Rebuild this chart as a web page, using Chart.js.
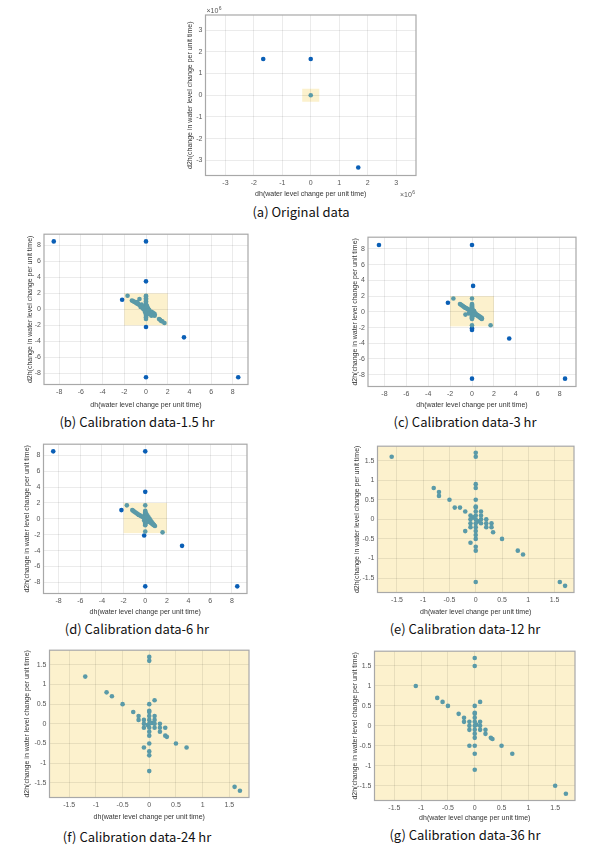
<!DOCTYPE html>
<html>
<head>
<meta charset="utf-8">
<script src="https://cdn.jsdelivr.net/npm/chart.js@4.4.1/dist/chart.umd.min.js"></script>
<style>
  html, body { margin: 0; padding: 0; background: #fff; }
  body { width: 590px; height: 850px; position: relative; overflow: hidden; }
  .panel { position: absolute; }
  .cap { position: absolute; width: 240px; text-align: center; font-family: "Noto Sans CJK KR", "Noto Sans", sans-serif;
         font-size: 13px; line-height: 16px; color: #111; white-space: pre; }
</style>
</head>
<body>
<script>
// tick labels
const ticksOrig = [-3, -2, -1, 0, 1, 2, 3];
const ticksCal = [-8, -6, -4, -2, 0, 2, 4, 6, 8];
const ticksZoom = [-1.5, -1, -0.5, 0, 0.5, 1, 1.5];

const xTitle = 'dh(water level change per unit time)';
const yTitle = 'd2h(change in water level change per unit time)';

// (a) original data (x10^6)
const aOutliers = [[-1.67, 1.67], [0, 1.67], [1.67, -3.33]];
const aCluster = [[0, 0]];

// (b) 1.5 hr
const bOutliers = [[-8.5, 8.5], [0, 8.5], [0, 3.5], [-2.2, 1.2], [0, -2.2], [3.5, -3.5], [0, -8.5], [8.5, -8.5]];
const bCluster = [
  [0, 1.7], [0, 1.6], [0, 1.4], [0, 1.2], [0, 1.0], [0, 0.8], [0, 0.6], [0, 0.5], [0, 0.4], [0, 0.3], [0, 0.2], [0, 0.1],
  [0, 0], [0, -0.1], [0, -0.2], [0, -0.3], [0, -0.4], [0, -0.5], [0, -0.6], [0, -0.8], [0, -1.0], [0, -1.2],
  [-1.7, 1.7], [-0.6, 1.3], [-1.3, 1.1], [-1.2, 1.05], [-1.1, 0.95], [-1.0, 0.9], [-0.9, 0.8], [-0.8, 0.7], [-0.7, 0.65],
  [-0.6, 0.55], [-0.5, 0.5], [-0.4, 0.4], [-0.3, 0.3], [-0.2, 0.2], [-0.1, 0.1], [0.1, -0.1], [0.2, -0.2], [0.3, -0.3],
  [0.4, -0.4], [0.5, -0.5], [0.6, -0.6], [0.7, -0.7], [0.8, -0.8], [1.2, -1.2], [1.3, -1.3], [1.4, -1.45], [1.5, -1.5],
  [1.7, -1.7], [-0.2, 0], [-0.3, 0.1], [0.2, 0.1], [0.3, -0.1], [0.2, -0.5], [0.3, -0.6], [0.5, -0.3], [0.6, -0.4],
  [0.7, -0.5], [0.8, -0.6], [0.5, -0.8], [-0.1, -0.3], [0.1, 0.4], [-0.4, 0.6], [-0.5, 0.3], [-0.8, 0.9]
];

// (c) 3 hr
const cOutliers = [[-8.5, 8.5], [0, 8.5], [0.1, 3.3], [-2.2, 1.15], [0, -2.1], [0, -2.3], [3.4, -3.4], [0, -8.5], [8.5, -8.5]];
const cCluster = [
  [-1.7, 1.7], [0, 1.7], [0, -1.7], [1.7, -1.7],
  [0, 1.0], [0, 0.9], [0, 0.8], [0, 0.7], [0, 0.6], [0, 0.5], [0, 0.4], [0, 0.3], [0, 0.2], [0, 0.1], [0, 0],
  [0, -0.1], [0, -0.2], [0, -0.3], [0, -0.4], [0, -0.5], [0, -0.6], [0, -0.7], [0, -0.8], [0, -0.9],
  [-1.1, 1.0], [-1.0, 0.9], [-0.9, 0.8], [-0.8, 0.7], [-0.7, 0.6], [-0.6, 0.5], [-0.5, 0.45], [-0.4, 0.35], [-0.3, 0.3],
  [-0.2, 0.2], [-0.1, 0.1], [0.1, -0.1], [0.2, -0.2], [0.3, -0.3], [0.4, -0.4], [0.5, -0.5], [0.6, -0.6], [0.7, -0.7],
  [0.8, -0.8], [0.9, -0.9], [0.2, -0.1], [0.3, -0.2], [0.4, -0.3], [0.5, -0.4], [0.6, -0.5], [0.7, -0.6], [0.8, -0.7],
  [0.9, -0.8], [0.1, 0.2], [0.2, 0.1], [-0.1, 0.2], [0.1, -0.3], [0.2, -0.4], [-0.6, -0.35], [-0.3, -0.2]
];

// (d) 6 hr
const dOutliers = [[-8.5, 8.5], [0, 8.5], [0, 3.4], [-2.2, 1.1], [-0.1, -2.1], [3.4, -3.4], [0, -8.5], [8.5, -8.5]];
const dCluster = [
  [-1.7, 1.7], [0, 1.7], [0, -1.6], [1.6, -1.7],
  [0, 1.0], [0, 0.9], [0, 0.8], [0, 0.7], [0, 0.6], [0, 0.5], [0, 0.4], [0, 0.3], [0, 0.2], [0, 0.1], [0, 0],
  [0, -0.1], [0, -0.2], [0, -0.3], [0, -0.4], [0, -0.5], [0, -0.6], [0, -0.7], [0, -0.8],
  [-1.2, 1.1], [-1.1, 1.0], [-1.0, 0.9], [-0.9, 0.8], [-0.8, 0.7], [-0.7, 0.6], [-0.6, 0.5], [-0.5, 0.45], [-0.4, 0.35],
  [-0.3, 0.3], [-0.2, 0.2], [-0.1, 0.1], [0.1, -0.1], [0.2, -0.2], [0.3, -0.3], [0.4, -0.4], [0.5, -0.5], [0.6, -0.6],
  [0.7, -0.7], [0.8, -0.8], [0.9, -0.9], [0.1, 0.6], [0.2, 0.4], [0.3, 0.2], [0.4, 0.0], [0.5, -0.2], [0.6, -0.4],
  [0.7, -0.6], [0.8, -0.75], [0.1, 0.2], [0.2, 0.1], [-0.1, -0.2], [0.1, -0.4]
];

// (e) 12 hr
const eCluster = [
  [-1.6, 1.6], [0, 1.7], [0, 1.6], [0, 0.9], [0, 0.8], [-0.8, 0.8], [-0.7, 0.7], [-0.7, 0.6], [-0.5, 0.5], [-0.4, 0.3],
  [-0.3, 0.3], [-0.2, 0.2], [0, 0.5], [0, 0.33], [0, 0.3], [0, 0.2], [0, 0.1], [-0.1, 0.1], [0.1, 0.2], [0.1, 0.1],
  [0, 0], [-0.05, 0.05], [0.05, -0.05], [-0.1, 0], [-0.1, -0.1], [-0.1, -0.2], [0, -0.1], [0, -0.2], [0, -0.3],
  [0, -0.4], [0, -0.5], [0.1, 0], [0.1, -0.1], [0.2, 0], [0.2, -0.1], [0.2, -0.2], [0.3, -0.1], [0.3, -0.2],
  [0.33, -0.33], [-0.2, -0.3], [-0.1, -0.6], [0, -0.7], [0, -0.8], [0.5, -0.5], [0.8, -0.8], [0.9, -0.9],
  [0, -1.6], [1.6, -1.6], [1.7, -1.7]
];

// (f) 24 hr
const fCluster = [
  [0, 1.7], [0, 1.6], [-1.2, 1.2], [-0.8, 0.8], [-0.7, 0.7], [-0.5, 0.5], [-0.3, 0.3], [-0.2, 0.2], [-0.2, 0.1],
  [-0.1, 0.1], [-0.1, 0], [-0.1, -0.1], [0, 0.5], [0, 0.33], [0, 0.3], [0, 0.2], [0, 0.1], [0, 0], [0.05, 0.02],
  [-0.03, -0.03], [0, -0.1], [0, -0.2], [0, -0.3], [0, -0.5], [0, -0.7], [0, -0.8], [0, -1.2], [0.1, 0.6],
  [0.1, 0.2], [0.1, 0.1], [0.1, 0], [0.1, -0.1], [0.2, 0], [0.2, -0.1], [0.2, -0.2], [0.3, -0.1], [0.3, -0.3],
  [0.33, -0.33], [0.5, -0.5], [0.7, -0.6], [-0.1, -0.6], [1.6, -1.6], [1.7, -1.7]
];

// (g) 36 hr
const gCluster = [
  [0, 1.7], [0, 1.5], [-1.1, 1.0], [-0.7, 0.7], [-0.6, 0.6], [-0.5, 0.5], [-0.3, 0.3], [-0.2, 0.2], [-0.2, 0.1],
  [-0.1, 0.1], [-0.1, 0], [-0.1, -0.1], [0, 0.5], [0, 0.33], [0, 0.3], [0, 0.2], [0, 0.1], [0, 0], [0.03, 0.03],
  [0, -0.1], [0, -0.2], [0, -0.3], [0, -0.5], [0, -0.7], [0, -1.1], [0.1, 0.6], [0.1, 0.1], [0.1, 0], [0.1, -0.1],
  [0.2, -0.1], [0.2, -0.2], [0.3, -0.3], [0.33, -0.33], [0.5, -0.5], [0.7, -0.7], [-0.1, -0.5], [1.5, -1.5], [1.7, -1.7]
];

const BLUE = '#0a5fb6';
const TEAL = '#5a9aa8';
const HL = '#fcf1cd';
const FONT = '"Liberation Sans", Arial, sans-serif';

// box = chart area in page px [left, top, right, bottom]
const panels = [
  { box: [205, 15, 415, 175], yw: 19.5, xh: 22.5, padT: 12, padR: 14, lim: 3.7, ticks: ticksOrig, hl: [-0.3, 0.3, -0.3, 0.3],
    outliers: aOutliers, cluster: aCluster, exp: true, cap: '(a) Original data', cx: 301, cy: 212 },
  { box: [44, 231, 248, 384], yw: 18, xh: 24.5, padT: 4, padR: 4, lim: 9.4, ticks: ticksCal, hl: [-2, 2, -2, 2],
    outliers: bOutliers, cluster: bCluster, cap: '(b) Calibration data-1.5 hr', cx: 137, cy: 422 },
  { box: [368, 234, 576, 386], yw: 17, xh: 22.5, padT: 4, padR: 4, lim: 9.5, ticks: ticksCal, hl: [-2, 2, -1.85, 2],
    outliers: cOutliers, cluster: cCluster, cap: '(c) Calibration data-3 hr', cx: 465, cy: 422 },
  { box: [43, 441, 246, 593], yw: 20.5, xh: 22.5, padT: 4, padR: 4, lim: 9.4, ticks: ticksCal, hl: [-2, 2, -1.8, 2],
    outliers: dOutliers, cluster: dCluster, cap: '(d) Calibration data-6 hr', cx: 137, cy: 629 },
  { box: [377, 443, 573, 592], yw: 24.5, xh: 23.5, padT: 4, padR: 4, lim: 1.87, ticks: ticksZoom, hl: [-2, 2, -2, 2],
    outliers: [], cluster: eCluster, cap: '(e) Calibration data-12 hr', cx: 465, cy: 629 },
  { box: [49, 647, 248, 797], yw: 26.5, xh: 23.5, padT: 4, padR: 4, lim: 1.87, ticks: ticksZoom, hl: [-2, 2, -2, 2],
    outliers: [], cluster: fCluster, cap: '(f) Calibration data-24 hr', cx: 137, cy: 837 },
  { box: [374, 648, 574, 800], yw: 23.5, xh: 21.5, padT: 4, padR: 4, lim: 1.87, ticks: ticksZoom, hl: [-2, 2, -2, 2],
    outliers: [], cluster: gCluster, cap: '(g) Calibration data-36 hr', cx: 465, cy: 835 }
];

const framePlugin = {
  id: 'frame',
  beforeDraw(chart, args, opts) {
    const { ctx, chartArea: a, scales: { x, y } } = chart;
    const h = opts.hl;
    ctx.save();
    ctx.beginPath();
    ctx.rect(a.left, a.top, a.right - a.left, a.bottom - a.top);
    ctx.clip();
    const x0 = x.getPixelForValue(h[0]), x1 = x.getPixelForValue(h[1]);
    const y0 = y.getPixelForValue(h[3]), y1 = y.getPixelForValue(h[2]);
    ctx.fillStyle = HL;
    ctx.fillRect(x0, y0, x1 - x0, y1 - y0);
    ctx.restore();
  },
  afterDraw(chart, args, opts) {
    const { ctx, chartArea: a } = chart;
    ctx.save();
    ctx.strokeStyle = '#a8a8a8';
    ctx.lineWidth = 1.2;
    ctx.strokeRect(a.left, a.top, a.right - a.left, a.bottom - a.top);
    if (opts.exp) {
      ctx.fillStyle = '#555';
      const drawExp = (px, py) => {
        ctx.font = '7px ' + FONT;
        ctx.textBaseline = 'alphabetic';
        ctx.fillText('\u00d710', px, py);
        const w = ctx.measureText('\u00d710').width;
        ctx.font = '5px ' + FONT;
        ctx.fillText('6', px + w + 0.5, py - 3);
      };
      drawExp(a.left + 1, a.top - 2);
      drawExp(a.right - 16, a.bottom + 21);
    }
    ctx.restore();
  }
};

function axis(p, horizontal) {
  return {
    type: 'linear',
    min: -p.lim,
    max: p.lim,
    afterBuildTicks: s => { s.ticks = p.ticks.map(v => ({ value: v })); },
    afterFit: s => { if (horizontal) s.height = p.xh; else s.width = p.yw; },
    ticks: { font: { size: 7, family: FONT }, color: '#555', padding: 3, maxRotation: 0, autoSkip: false,
             callback: v => String(v) },
    grid: { color: 'rgba(0,0,0,0.08)', drawTicks: false },
    border: { display: false },
    title: { display: true, text: horizontal ? xTitle : yTitle, font: { size: 7, family: FONT }, color: '#333', padding: 0 }
  };
}

const toXY = arr => arr.map(([x, y]) => ({ x, y }));

panels.forEach(p => {
  const [L, T, R, B] = p.box;
  const div = document.createElement('div');
  div.className = 'panel';
  const w = Math.round(R - L + p.yw + p.padR);
  const h = Math.round(B - T + p.padT + p.xh);
  div.style.left = (L - p.yw) + 'px';
  div.style.top = (T - p.padT) + 'px';
  div.style.width = w + 'px';
  div.style.height = h + 'px';
  const cv = document.createElement('canvas');
  cv.width = w;
  cv.height = h;
  div.appendChild(cv);
  document.body.appendChild(div);

  new Chart(cv.getContext('2d'), {
    type: 'scatter',
    data: {
      datasets: [
        { data: toXY(p.cluster), backgroundColor: TEAL, borderWidth: 0, pointRadius: 2.3 },
        { data: toXY(p.outliers), backgroundColor: BLUE, borderWidth: 0, pointRadius: 2.3 }
      ]
    },
    options: {
      responsive: false,
      animation: false,
      devicePixelRatio: 1,
      layout: { padding: { top: p.padT, right: p.padR, left: 0, bottom: 0 } },
      scales: { x: axis(p, true), y: axis(p, false) },
      plugins: {
        legend: { display: false },
        tooltip: { enabled: false },
        frame: { hl: p.hl, exp: !!p.exp }
      }
    },
    plugins: [framePlugin]
  });

  const cap = document.createElement('div');
  cap.className = 'cap';
  cap.textContent = p.cap;
  cap.style.left = (p.cx - 120) + 'px';
  cap.style.top = (p.cy - 8) + 'px';
  document.body.appendChild(cap);
});
</script>
</body>
</html>
